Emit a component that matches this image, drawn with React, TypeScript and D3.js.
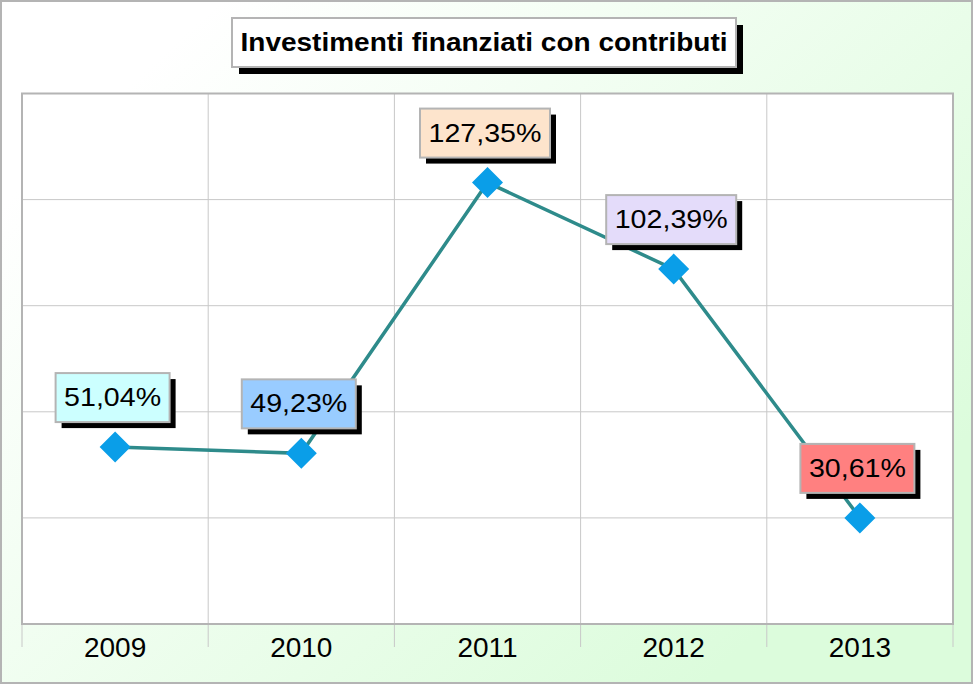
import React from "react";
import * as d3 from "d3";

const title = "Investimenti finanziati con contributi";
const years = ["2009", "2010", "2011", "2012", "2013"];
const values = [51.04, 49.23, 127.35, 102.39, 30.61];
const labels = ["51,04%", "49,23%", "127,35%", "102,39%", "30,61%"];
const labelColors = ["#ccffff", "#99ccff", "#fde4cc", "#e4dcfa", "#ff8080"];
const gridStep = 30.61;
const gridCount = 5;

const W = 975;
const H = 685;
const plot = { left: 22, right: 953, top: 93.5, bottom: 624 };

function estWidth(s: string): number {
  let w = 0;
  for (const c of s) {
    if (c === ",") w += 8;
    else if (c === "%") w += 25;
    else w += 16;
  }
  return w;
}

export default function App() {
  const x = d3.scaleBand<string>().domain(years).range([plot.left, plot.right]).padding(0);
  const yMax = gridStep * gridCount;
  const y = d3.scaleLinear().domain([0, yMax]).range([plot.bottom, plot.top]);
  const cx = (yr: string) => (x(yr) as number) + x.bandwidth() / 2;
  const gridVals = d3.range(0, gridCount + 1).map((i) => i * gridStep);
  const boundaries = d3.range(0, years.length + 1).map((i) => plot.left + i * x.bandwidth());
  const line = d3
    .line<number>()
    .x((_, i) => cx(years[i]))
    .y((d) => y(d));
  const titleW = 487;
  const titleBox = { x: 232, y: 18, w: 504, h: 49 };

  return (
    <div style={{ position: "absolute", left: 0, top: 0 }}>
      <svg width={W} height={H} style={{ display: "block" }}>
        <defs>
          <linearGradient id="bg" x1="0.15" y1="0.1" x2="0.95" y2="0.7">
            <stop offset="0" stopColor="#ffffff" />
            <stop offset="1" stopColor="#dcfcdc" />
          </linearGradient>
        </defs>
        <rect x={1} y={1} width={W - 4} height={H - 3} fill="url(#bg)" stroke="#b4b4b4" strokeWidth={2} />

        {/* plot area */}
        <rect x={plot.left} y={plot.top} width={plot.right - plot.left} height={plot.bottom - plot.top} fill="#ffffff" />
        {gridVals.map((v, i) => (
          <line key={"g" + i} x1={plot.left} x2={plot.right} y1={y(v)} y2={y(v)} stroke="#c8c8c8" strokeWidth={1} />
        ))}
        {boundaries.map((bx, i) => (
          <line key={"b" + i} x1={bx} x2={bx} y1={plot.top} y2={647} stroke="#c8c8c8" strokeWidth={1} />
        ))}
        <rect
          x={plot.left}
          y={plot.top}
          width={plot.right - plot.left}
          height={plot.bottom - plot.top}
          fill="none"
          stroke="#b4b4b4"
          strokeWidth={2}
        />

        {/* year labels */}
        {years.map((yr) => (
          <text
            key={yr}
            x={cx(yr)}
            y={657}
            textAnchor="middle"
            fontFamily="'Liberation Sans', Arial, sans-serif"
            fontSize={28}
            fill="#000"
          >
            {yr}
          </text>
        ))}

        {/* line */}
        <path d={line(values) || ""} fill="none" stroke="#2e8b8b" strokeWidth={3.5} />
        {values.map((v, i) => {
          const px = cx(years[i]);
          const py = y(v);
          const r = 15.5;
          return (
            <path
              key={"m" + i}
              d={`M${px},${py - r}L${px + r},${py}L${px},${py + r}L${px - r},${py}Z`}
              fill="#0a9ee8"
            />
          );
        })}

        {/* data labels */}
        {values.map((v, i) => {
          const px = cx(years[i]);
          const py = y(v);
          const tw = estWidth(labels[i]);
          const bw = tw + 17;
          const bh = 49;
          const bx = px - 2.5 - bw / 2;
          const by = py - 25 - bh;
          return (
            <g key={"l" + i}>
              <rect x={bx + 6} y={by + 6} width={bw} height={bh} fill="#000" />
              <rect x={bx} y={by} width={bw} height={bh} fill={labelColors[i]} stroke="#b4b4b4" strokeWidth={2} />
              <text
                x={bx + bw / 2}
                y={by + 33}
                textAnchor="middle"
                fontFamily="'Liberation Sans', Arial, sans-serif"
                fontSize={25}
                textLength={tw}
                lengthAdjust="spacingAndGlyphs"
                fill="#000"
              >
                {labels[i]}
              </text>
            </g>
          );
        })}

        {/* title */}
        <rect x={titleBox.x + 7} y={titleBox.y + 7} width={titleBox.w} height={titleBox.h} fill="#000" />
        <rect x={titleBox.x} y={titleBox.y} width={titleBox.w} height={titleBox.h} fill="#fff" stroke="#b4b4b4" strokeWidth={2} />
        <text
          x={titleBox.x + titleBox.w / 2}
          y={titleBox.y + 33}
          textAnchor="middle"
          fontFamily="'Liberation Sans', Arial, sans-serif"
          fontWeight="bold"
          fontSize={25}
          textLength={titleW}
          lengthAdjust="spacingAndGlyphs"
          fill="#000"
        >
          {title}
        </text>
      </svg>
    </div>
  );
}
